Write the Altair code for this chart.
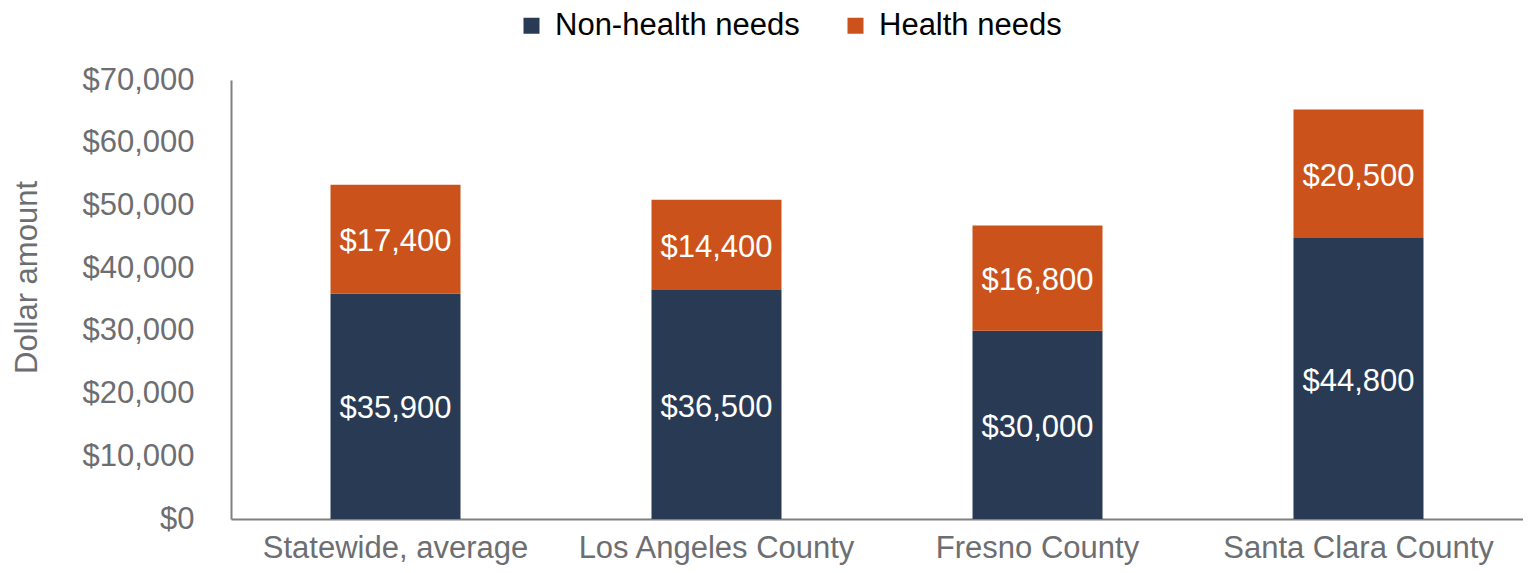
import altair as alt
import pandas as pd

categories = ["Statewide, average", "Los Angeles County", "Fresno County", "Santa Clara County"]
non_health = [35900, 36500, 30000, 44800]
health = [17400, 14400, 16800, 20500]
series = ["Non-health needs", "Health needs"]
colors = ["#293a55", "#cb521b"]

rows = []
for c, nh, h in zip(categories, non_health, health):
    rows.append({"category": c, "series": series[0], "value": nh, "ord": 0})
    rows.append({"category": c, "series": series[1], "value": h, "ord": 1})
df = pd.DataFrame(rows)

FONT = "Liberation Sans"
GRAY = "#6d6e71"

base = alt.Chart(df).transform_stack(
    stack="value", as_=["y0", "y1"], groupby=["category"], sort=[alt.SortField("ord")]
).transform_calculate(
    mid="(datum.y0 + datum.y1) / 2",
    label="'$' + format(datum.value, ',')",
)

x = alt.X(
    "category:N",
    sort=categories,
    title=None,
    scale=alt.Scale(paddingInner=0.595, paddingOuter=0.31),
    axis=alt.Axis(
        labelAngle=0, ticks=False, labelFontSize=31, labelColor=GRAY, labelFont=FONT,
        labelPadding=14, labelLimit=0, domainColor="#808080", domainWidth=2,
    ),
)

bars = base.mark_bar().encode(
    x=x,
    y=alt.Y(
        "y0:Q",
        title="Dollar amount",
        scale=alt.Scale(domain=[0, 70000]),
        axis=alt.Axis(
            values=list(range(0, 70001, 10000)), format="$,d", grid=False, ticks=False,
            labelFontSize=31, labelColor=GRAY, labelFont=FONT, labelPadding=37,
            labelLimit=0, domainColor="#808080", domainWidth=2,
            titleFontSize=31, titleColor=GRAY, titleFont=FONT, titleFontWeight="normal",
            titlePadding=38, titleY=197,
        ),
    ),
    y2="y1:Q",
    color=alt.Color(
        "series:N",
        scale=alt.Scale(domain=series, range=colors),
        legend=alt.Legend(
            title=None, orient="none", direction="horizontal", legendX=285, legendY=-70,
            symbolType="square", symbolSize=256, symbolStrokeWidth=0,
            labelFontSize=31, labelColor="#000000", labelFont=FONT, labelOffset=8,
            labelLimit=0, columnPadding=40,
        ),
    ),
)

text = base.mark_text(color="white", fontSize=31, font=FONT, dy=3).encode(
    x=alt.X("category:N", sort=categories),
    y=alt.Y("mid:Q"),
    text="label:N",
)

chart = alt.layer(bars, text).properties(
    width=1292,
    height=439,
    autosize=alt.AutoSizeParams(type="none"),
    padding={"left": 223, "top": 72, "right": 0, "bottom": 46},
).configure_view(stroke=None)

chart.save("out.html", embed_options={"renderer": "svg", "actions": False})
